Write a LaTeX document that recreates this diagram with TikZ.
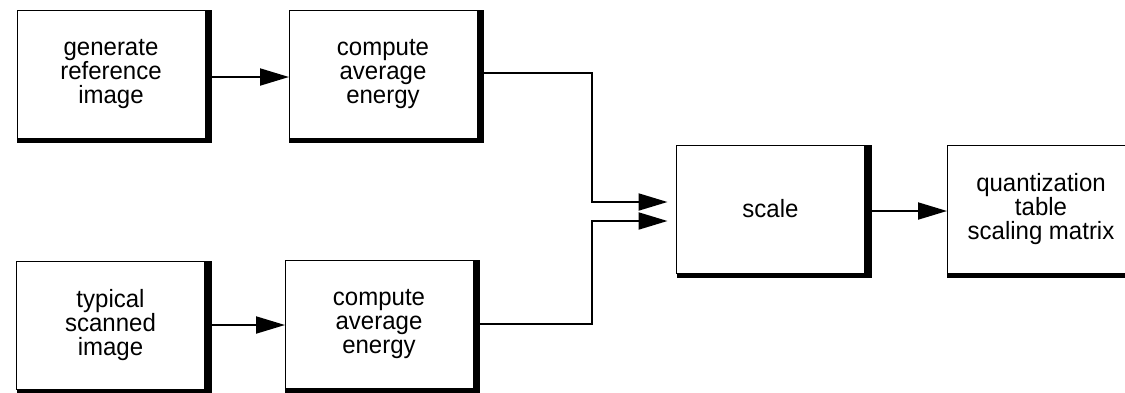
\documentclass[tikz,border=0pt]{standalone}
\usepackage{fontspec}
\setmainfont{Liberation Sans}[FakeStretch=0.96]
\usetikzlibrary{arrows.meta}
\tikzset{
  blk/.style={draw, line width=0.8pt, fill=white, minimum width=188pt, minimum height=128pt,
    inner sep=0pt, outer sep=0pt, align=center, font=\fontsize{25}{24}\selectfont},
  flow/.style={line width=2pt, -{Triangle[length=29pt,width=17pt]}},
}
\begin{document}
\begin{tikzpicture}[x=1pt,y=1pt]
\useasboundingbox (0,0) rectangle (1125,-392);
\node[blk] (gen) at (111,-74) {generate\\reference\\image};
\node[blk] (c1) at (383,-74) {compute\\average\\energy};
\node[blk] (typ) at (110.5,-325) {typical\\scanned\\image};
\node[blk] (c2) at (379,-324) {compute\\average\\energy};
\node[blk] (scale) at (770.5,-209) {scale};
\node[blk] (quant) at (1041,-209) {quantization\\table\\scaling matrix};
\foreach \n in {gen,c1,typ,c2,scale,quant}{
  \fill (\n.north east) rectangle ([xshift=7pt,yshift=-5pt]\n.south east);
  \fill (\n.south west) rectangle ([xshift=7pt,yshift=-5pt]\n.south east);
}
\draw[flow] ([yshift=-3pt]gen.east) -- ([yshift=-3pt]c1.west);
\draw[flow] (typ.east) -- ([yshift=-1pt]c2.west);
\draw[flow] ([yshift=-2pt]scale.east) -- ([yshift=-2pt]quant.west);
\coordinate (j1) at (592,-202);
\coordinate (j2) at (592,-221);
\draw[flow] ([yshift=1pt]c1.east) -| (j1) -- ([xshift=-9pt,yshift=7pt]scale.west);
\draw[flow] (c2.east) -| (j2) -- ([xshift=-9pt,yshift=-12pt]scale.west);
\end{tikzpicture}
\end{document}
